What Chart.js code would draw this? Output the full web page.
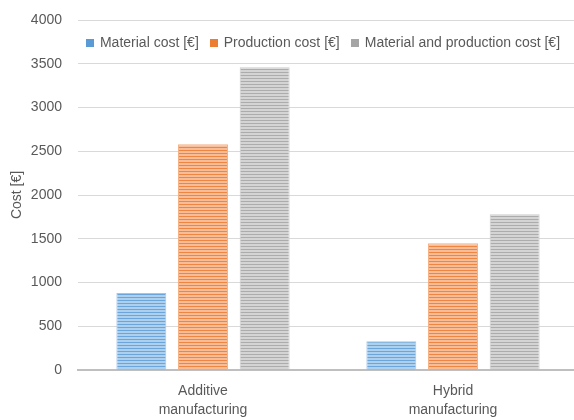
<!DOCTYPE html>
<html>
<head>
<meta charset="utf-8">
<script src="https://cdn.jsdelivr.net/npm/chart.js@4"></script>
<style>
  html, body { margin: 0; padding: 0; background: #fff; overflow: hidden; }
  #wrap { width: 582px; height: 420px; }
</style>
</head>
<body>
<div id="wrap"><canvas id="c" width="582" height="420"></canvas></div>
<script>
// Categories and cost values (EUR)
const categories = [['Additive', 'manufacturing'], ['Hybrid', 'manufacturing']];
const seriesNames = ['Material cost [€]', 'Production cost [€]', 'Material and production cost [€]'];
const materialCost = [880, 330];
const productionCost = [2580, 1450];
const totalCost = [3460, 1780];
const yTicks = [0, 500, 1000, 1500, 2000, 2500, 3000, 3500, 4000];

// Horizontal-line hatch fill
function stripes(dark, light) {
  const c = document.createElement('canvas');
  c.width = 4; c.height = 3;
  const g = c.getContext('2d');
  g.fillStyle = light; g.fillRect(0, 0, 4, 3);
  g.fillStyle = dark; g.fillRect(0, 0, 4, 1);
  return g.createPattern(c, 'repeat');
}
const solid = ['#5b9bd5', '#ed7d31', '#a5a5a5'];
const fills = [
  stripes('#6aa5dc', '#add0ee'),
  stripes('#ef8540', '#f7bd98'),
  stripes('#acacac', '#d4d4d4')
];
const borders = ['#a2c6e8', '#f4b183', '#cccccc'];

const family = '"Liberation Sans", Arial, sans-serif';
const font = { family: family, size: 14 };
const txt = '#595959';

// Legend drawn inside the plot area, one row, centred
const insideLegend = {
  id: 'insideLegend',
  afterDraw(chart) {
    const ctx = chart.ctx;
    const area = chart.chartArea;
    ctx.save();
    ctx.font = '14px ' + family;
    ctx.textBaseline = 'middle';
    const box = 8, gapText = 6, gapItem = 11;
    const widths = chart.data.datasets.map(d => ctx.measureText(d.label).width);
    let total = 0;
    widths.forEach((w, i) => { total += box + gapText + w + (i < widths.length - 1 ? gapItem : 0); });
    let x = (area.left + area.right) / 2 - total / 2 - 5;
    const y = area.top + 23;
    chart.data.datasets.forEach((d, i) => {
      ctx.fillStyle = solid[i];
      ctx.fillRect(Math.round(x), Math.round(y - box / 2), box, box);
      x += box + gapText;
      ctx.fillStyle = txt;
      ctx.fillText(d.label, x, y);
      x += widths[i] + gapItem;
    });
    ctx.restore();
  }
};

new Chart(document.getElementById('c'), {
  type: 'bar',
  data: {
    labels: categories,
    datasets: seriesNames.map((name, i) => ({
      label: name,
      data: [materialCost, productionCost, totalCost][i],
      backgroundColor: fills[i],
      borderColor: borders[i],
      borderWidth: 1
    }))
  },
  options: {
    responsive: false,
    animation: false,
    devicePixelRatio: 1,
    layout: { padding: { top: 20, right: 4, left: 0, bottom: 0 } },
    datasets: { bar: { categoryPercentage: 0.74, barPercentage: 0.81 } },
    plugins: {
      tooltip: { enabled: false },
      legend: { display: false }
    },
    scales: {
      x: {
        grid: { display: false },
        border: { display: true, color: '#bfbfbf', width: 2 },
        ticks: { font: { family: family, size: 14, lineHeight: 1.35 }, color: txt, padding: 4, maxRotation: 0 },
        afterFit(s) { s.height = 50; s.paddingLeft = 0; s.paddingRight = 0; }
      },
      y: {
        min: 0, max: 4000,
        afterBuildTicks(s) { s.ticks = yTicks.map(v => ({ value: v })); },
        grid: { color: '#d9d9d9', lineWidth: 1, drawTicks: false },
        border: { display: false },
        ticks: { font: font, color: txt, padding: 16, callback: v => String(v) },
        title: { display: true, text: 'Cost [€]', font: { family: family, size: 14 }, color: txt, padding: { top: 9, bottom: 0 } },
        afterFit(s) { s.width = 78; s.paddingTop = 0; s.paddingBottom = 0; }
      }
    }
  },
  plugins: [insideLegend]
});
</script>
</body>
</html>
